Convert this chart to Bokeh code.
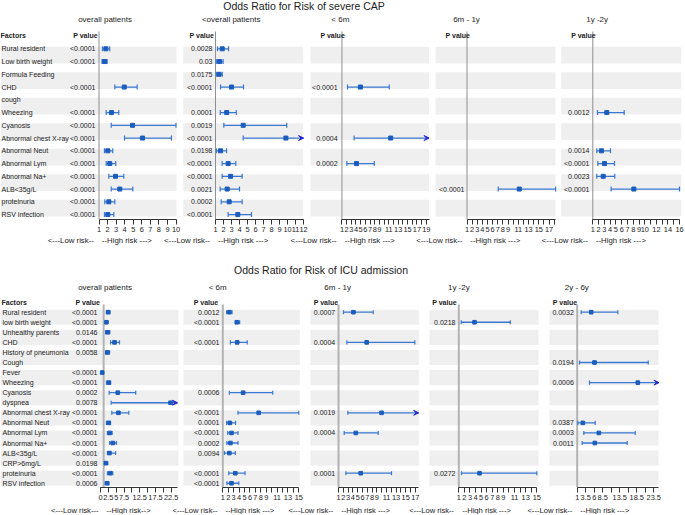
from bokeh.plotting import figure
from bokeh.models import (Range1d, FixedTicker, CustomJSTickFormatter, Arrow,
                          VeeHead, ColumnDataSource)
from bokeh.layouts import column, row
from bokeh.core.properties import value
from bokeh.embed import file_html
from bokeh.resources import INLINE

# ======================= DATA: severe CAP =======================
cap_title = "Odds Ratio for Risk of severe CAP"
cap_groups = ["overall patients", "<overall patients", "< 6m", "6m  - 1y", "1y -2y"]
cap_factors = ["Rural resident", "Low birth weight", "Formula Feeding", "CHD", "cough",
               "Wheezing", "Cyanosis", "Abnormal chest X-ray", "Abnormal Neut",
               "Abnormal Lym", "Abnormal Na+", "ALB<35g/L", "proteinuria", "RSV infection"]

cap_overall_p = ["<0.0001", "<0.0001", "", "<0.0001", "", "<0.0001", "<0.0001", "<0.0001",
                 "<0.0001", "<0.0001", "<0.0001", "<0.0001", "<0.0001", "<0.0001"]
cap_overall_or = [1.8, 1.65, None, 3.95, None, 2.46, 4.92, 6.08, 2.03, 2.26, 2.93, 3.43, 2.15, 2.03]
cap_overall_lo = [1.4, 1.35, None, 2.85, None, 1.84, 2.43, 3.98, 1.64, 1.84, 2.15, 2.43, 1.68, 1.64]
cap_overall_hi = [2.25, 1.95, None, 5.46, None, 3.31, 10.0, 9.47, 2.61, 2.96, 3.9, 4.95, 2.85, 2.73]

cap_all_p = ["0.0028", "0.03", "0.0175", "<0.0001", "", "0.0001", "0.0019", "<0.0001",
             "0.0198", "<0.0001", "<0.0001", "0.0021", "0.0002", "<0.0001"]
cap_all_or = [1.84, 1.5, 1.45, 3.0, None, 2.4, 4.46, 9.8, 1.63, 2.58, 2.88, 2.46, 2.71, 3.79]
cap_all_lo = [1.25, 1.1, 1.1, 1.63, None, 1.6, 2.04, 4.46, 1.12, 1.83, 1.83, 1.58, 1.71, 2.58]
cap_all_hi = [2.63, 1.95, 1.85, 4.5, None, 3.6, 9.9, 14.0, 2.38, 3.54, 4.33, 4.0, 4.33, 5.5]

cap_6m_p = ["", "", "", "<0.0001", "", "", "", "0.0004", "", "0.0002", "", "", "", ""]
cap_6m_or = [None, None, None, 4.94, None, None, None, 11.4, None, 4.1, None, None, None, None]
cap_6m_lo = [None, None, None, 2.2, None, None, None, 3.6, None, 2.06, None, None, None, None]
cap_6m_hi = [None, None, None, 11.1, None, None, None, 25.0, None, 7.9, None, None, None, None]

cap_6m1y_p = ["", "", "", "", "", "", "", "", "", "", "", "<0.0001", "", ""]
cap_6m1y_or = [None] * 11 + [11.2] + [None] * 2
cap_6m1y_lo = [None] * 11 + [7.1] + [None] * 2
cap_6m1y_hi = [None] * 11 + [18.3] + [None] * 2

cap_1y2y_p = ["", "", "", "", "", "0.0012", "", "", "0.0014", "<0.0001", "0.0023", "<0.0001", "", ""]
cap_1y2y_or = [None, None, None, None, None, 3.42, None, None, 2.5, 3.02, 2.8, 8.1, None, None]
cap_1y2y_lo = [None, None, None, None, None, 1.81, None, None, 1.69, 1.87, 1.69, 4.18, None, None]
cap_1y2y_hi = [None, None, None, None, None, 6.43, None, None, 4.06, 4.75, 4.8, 16.0, None, None]

cap_ticks = [[1, 2, 3, 4, 5, 6, 7, 8, 9, 10],
             [1, 2, 3, 4, 5, 6, 7, 8, 9, 10, 11, 12],
             [1, 2, 3, 4, 5, 6, 7, 8, 9, 11, 13, 15, 17, 19],
             [1, 2, 3, 4, 5, 6, 7, 8, 9, 11, 13, 15, 17],
             [1, 2, 3, 4, 5, 6, 7, 8, 9, 10, 12, 14, 16]]
cap_hidden_ticks = [[], [], [10, 12, 14, 16, 18], [10, 12, 14, 16, 18], [11, 13, 15]]
cap_risk_low = ["<---Low risk--"] * 5
cap_risk_high = ["--High risk --->"] * 5

# ======================= DATA: ICU admission =======================
icu_title = "Odds Ratio for Risk of ICU admission"
icu_groups = ["overall patients", "< 6m", "6m  - 1y", "1y -2y", "2y - 6y"]
icu_factors = ["Rural resident", "low birth weight", "Unhealthy parents", "CHD",
               "History of pneumonia", "Cough", "Fever", "Wheezing", "Cyanosis", "dyspnea",
               "Abnormal chest X-ray", "Abnormal Neut", "Abnormal Lym", "Abnormal Na+",
               "ALB<35g/L", "CRP>6mg/L", "proteinuria", "RSV infection"]

icu_overall_p = ["<0.0001", "<0.0001", "0.0146", "<0.0001", "0.0058", "", "<0.0001", "<0.0001",
                 "0.0002", "0.0078", "<0.0001", "<0.0001", "<0.0001", "<0.0001", "<0.0001",
                 "0.0198", "<0.0001", "0.0006"]
icu_overall_or = [2.45, 1.9, 2.3, 4.46, 2.2, None, 0.54, 2.65, 5.5, 22.3, 5.7, 2.6, 2.95, 3.9,
                  2.85, 1.7, 3.1, 2.1]
icu_overall_lo = [1.9, 1.7, 1.6, 3.2, 1.6, None, 0.4, 1.9, 2.76, 3.4, 3.6, 1.9, 2.2, 2.9,
                  2.2, 1.3, 2.2, 1.5]
icu_overall_hi = [2.96, 2.1, 2.96, 6.05, 2.9, None, 0.7, 3.2, 11.2, 30.0, 9.0, 3.2, 3.7, 5.1,
                  4.8, 2.3, 3.9, 2.65]

icu_6m_p = ["0.0012", "<0.0001", "", "<0.0001", "", "", "", "", "0.0006", "", "<0.0001",
            "0.0001", "<0.0001", "0.0002", "0.0094", "", "<0.0001", "<0.0001"]
icu_6m_or = [2.2, 3.6, None, 3.65, None, None, None, None, 4.75, None, 7.6, 2.3, 2.6, 2.4,
             2.2, None, 3.3, 2.6]
icu_6m_lo = [1.7, 3.3, None, 2.4, None, None, None, None, 2.2, None, 3.8, 1.7, 1.9, 1.75,
             1.3, None, 2.1, 1.75]
icu_6m_hi = [2.7, 4.1, None, 5.5, None, None, None, None, 10.2, None, 15.0, 3.35, 3.8, 3.8,
             3.3, None, 5.1, 3.95]

icu_6m1y_p = ["0.0007", "", "", "0.0004", "", "", "", "", "", "", "0.0019", "", "0.0004", "",
              "", "", "0.0001", ""]
icu_6m1y_or = [4.1, None, None, 6.87, None, None, None, None, None, None, 9.97, None, 4.6,
               None, None, None, 5.63, None]
icu_6m1y_lo = [2.03, None, None, 2.74, None, None, None, None, None, None, 2.94, None, 2.18,
               None, None, None, 2.53, None]
icu_6m1y_hi = [8.23, None, None, 16.9, None, None, None, None, None, None, 25.0, None, 9.27,
               None, None, None, 12.04, None]

icu_1y2y_p = ["", "0.0218", "", "", "", "", "", "", "", "", "", "", "", "", "", "", "0.0272", ""]
icu_1y2y_or = [None, 3.82] + [None] * 14 + [4.72, None]
icu_1y2y_lo = [None, 1.43] + [None] * 14 + [1.48, None]
icu_1y2y_hi = [None, 10.23] + [None] * 14 + [15.0, None]

icu_2y6y_p = ["0.0032", "", "", "", "", "0.0194", "", "0.0006", "", "", "", "0.0387", "0.0003",
              "0.0011", "", "", "", ""]
icu_2y6y_or = [5.11, None, None, None, None, 6.08, None, 18.8, None, None, None, 2.65, 7.35,
               6.17, None, None, None, None]
icu_2y6y_lo = [2.18, None, None, None, None, 1.68, None, 4.61, None, None, None, 1.18, 2.94,
               2.47, None, None, None, None]
icu_2y6y_hi = [12.93, None, None, None, None, 21.86, None, 30.0, None, None, None, 6.29, 18.04,
               15.69, None, None, None, None]

icu_ticks = [[0, 2.5, 5, 7.5, 12.5, 17.5, 22.5],
             [1, 2, 3, 4, 5, 6, 7, 8, 9, 11, 13, 15],
             [1, 2, 3, 4, 5, 6, 7, 8, 9, 11, 13, 15, 17],
             [1, 2, 3, 4, 5, 6, 7, 8, 9, 11, 13, 15],
             [1, 3.5, 6, 8.5, 13.5, 18.5, 23.5]]
icu_hidden_ticks = [[10, 15, 20], [10, 12, 14], [10, 12, 14, 16], [10, 12, 14], [11, 16, 21]]
icu_risk_low = ["<---Low risk---", "<---Low risk--", "<---Low risk--", "<---Low risk--", "<---Low risk--"]
icu_risk_high = ["--High risk-->", "--High risk --->", "--High risk --->", "--High risk --->", "--High risk --->"]

# ======================= LAYOUT / STYLE =======================
FONT = "Liberation Sans"
W_REF, H_REF = 685, 515
W_PX, H_PX = 684, 514
SX = W_PX / W_REF
SY = H_PX / H_REF
BAND = "#efefef"
WHISK = "#3a78d2"
SQ = "#1c5cbc"
ARROW = "#2626d6"
TXT = "#1c1c1c"

CAP_LAYOUT = dict(head=(0, 27), body=(27, 236), foot=(236, 258), axis_y=219, row0=48.3,
                  step=12.75, band_half=0.66, title_xy=(304, 5.5), sub_y=19, header_y=35,
                  line_top=31, risk_y=240.5, risk_size="7.8px", cap_half=0.2, sq=4.0,
                  ref_color="#8f8f8f", ref_width=1.0, label_x=1)
CAP_PANELS = [
    dict(extent=(0, 180), band=(0, 176), cal=(98.5, 1, 175.5, 10), bounds=(1, 10),
         p_right=95, head_left=72.7, sub_x=104.7),
    dict(extent=(180, 308), band=(182.7, 302.7), cal=(215, 1, 303, 12), bounds=(1, 12),
         p_right=212, head_left=189, sub_x=231),
    dict(extent=(308, 433), band=(310, 429.5), cal=(341.7, 1, 426.7, 19), bounds=(1, 19.6),
         p_right=337.3, head_left=320, sub_x=340.3),
    dict(extent=(433, 559), band=(436, 556), cal=(467.5, 1, 549.5, 17), bounds=(1, 18.3),
         p_right=465, head_left=446, sub_x=467.8),
    dict(extent=(559, 685), band=(561.7, 681.7), cal=(593.3, 1, 680, 16), bounds=(1, 16),
         p_right=590, head_left=571.7, sub_x=597.5),
]
ICU_LAYOUT = dict(head=(258, 296), body=(296, 504), foot=(504, 515), axis_y=488.3,
                  row0=312.7, step=10.08, band_half=0.75, title_xy=(321, 270), sub_y=287.7,
                  header_y=302.7, line_top=305, risk_y=509.5, risk_size="7.6px",
                  cap_half=0.2, sq=3.6, ref_color="#b3b3b3", ref_width=2.0, label_x=2)
ICU_PANELS = [
    dict(extent=(0, 180), band=(0, 178), cal=(100, 0, 170.7, 22.5), bounds=(0, 24.5),
         p_right=97, head_left=75, sub_x=104.7),
    dict(extent=(180, 305), band=(183, 299.3), cal=(222.3, 1, 298.3, 15), bounds=(1, 15),
         p_right=219, head_left=193.3, sub_x=217.5),
    dict(extent=(305, 425), band=(310, 419.3), cal=(338.3, 1, 415.7, 17), bounds=(1, 17.7),
         p_right=335, head_left=313.3, sub_x=338.8),
    dict(extent=(425, 545), band=(430, 539), cal=(459.3, 1, 537.3, 15), bounds=(1, 15),
         p_right=456, head_left=432.7, sub_x=459),
    dict(extent=(545, 685), band=(550, 659), cal=(577.7, 1, 654.3, 23.5), bounds=(1, 25),
         p_right=574.3, head_left=553.3, sub_x=577.2),
]


def lin(cal):
    p1, v1, p2, v2 = cal
    k = (p2 - p1) / (v2 - v1)
    return lambda px: v1 + (px - p1) / k


def px_of(cal, v):
    p1, v1, p2, v2 = cal
    return p1 + (v - v1) * (p2 - p1) / (v2 - v1)


def span_px(a, b, s):
    return round(b * s) - round(a * s)


def base_fig(w, h, xr, yr, mb=0, axis=None):
    f = figure(width=w, height=h, x_range=xr, y_range=yr, output_backend="svg",
               toolbar_location=None, title=None, min_border_left=0, min_border_right=0,
               min_border_top=0, min_border_bottom=mb, x_axis_location=axis,
               y_axis_location=None)
    f.outline_line_color = None
    f.background_fill_color = "white"
    f.border_fill_color = "white"
    f.grid.visible = False
    return f


def header(L, title, groups, panels):
    h0, h1 = L["head"]
    f = base_fig(W_PX, span_px(h0, h1, SY), Range1d(0, W_REF), Range1d(h1, h0))
    f.text(x=[L["title_xy"][0]], y=[L["title_xy"][1]], text=[title], text_align="center",
           text_baseline="middle", text_font=value(FONT), text_font_size="10.5px",
           text_color=TXT)
    f.text(x=[P["sub_x"] for P in panels], y=[L["sub_y"]] * len(groups), text=groups,
           text_align="center", text_baseline="middle", text_font=value(FONT),
           text_font_size="8px", text_color=TXT)
    return f


def footer(L, panels, lows, highs):
    f0, f1 = L["foot"]
    f = base_fig(W_PX, span_px(f0, f1, SY), Range1d(0, W_REF), Range1d(f1, f0))
    xs = [px_of(P["cal"], 1) for P in panels]
    f.text(x=[x - 5 for x in xs], y=[L["risk_y"]] * len(xs), text=lows, text_align="right",
           text_baseline="middle", text_font=value(FONT), text_font_size=L["risk_size"],
           text_color=TXT)
    f.text(x=[x + 3 for x in xs], y=[L["risk_y"]] * len(xs), text=highs, text_align="left",
           text_baseline="middle", text_font=value(FONT), text_font_size=L["risk_size"],
           text_color=TXT)
    return f


def panel(L, P, first, factors, pvals, ors, los, his, ticks, hidden):
    a, b = P["extent"]
    w = span_px(a, b, SX)
    h0, h1 = L["body"]
    h = span_px(h0, h1, SY)
    fh = span_px(h0, L["axis_y"], SY)
    vx = lin(P["cal"])
    ry = lambda py: (py - L["row0"]) / L["step"]
    f = base_fig(w, h, Range1d(vx(a), vx(b)), Range1d(ry(L["axis_y"]), ry(h0)),
                 mb=h - fh, axis="below")
    n = len(factors)
    pairs = list(range(0, n, 2))
    f.quad(left=vx(P["band"][0]), right=vx(P["band"][1]),
           top=[i + 0.5 - L["band_half"] for i in pairs],
           bottom=[i + 0.5 + L["band_half"] for i in pairs],
           fill_color=BAND, line_color=None)
    # reference line at OR = 1
    f.segment(x0=[1], x1=[1], y0=[ry(L["line_top"])], y1=[ry(L["axis_y"])],
              line_color=L["ref_color"], line_width=L["ref_width"])

    rows = [i for i in range(n) if ors[i] is not None]
    xmax = P["bounds"][1]
    oo = [ors[i] for i in rows]
    lo = [los[i] for i in rows]
    hi = [his[i] for i in rows]
    hi_draw = [min(v, xmax) for v in hi]
    c = L["cap_half"]
    if rows:
        f.segment(x0=lo, x1=hi_draw, y0=rows, y1=rows, line_color=WHISK, line_width=1.3)
        f.segment(x0=lo, x1=lo, y0=[y - c for y in rows], y1=[y + c for y in rows],
                  line_color=WHISK, line_width=1.2)
        cap_x = [hv for hv in hi if hv <= xmax]
        cap_y = [y for hv, y in zip(hi, rows) if hv <= xmax]
        if cap_x:
            f.segment(x0=cap_x, x1=cap_x, y0=[y - c for y in cap_y], y1=[y + c for y in cap_y],
                      line_color=WHISK, line_width=1.2)
        arr = [(l, y) for l, hv, y in zip(lo, hi, rows) if hv > xmax]
        if arr:
            src = ColumnDataSource(dict(x0=[t[0] for t in arr], x1=[xmax] * len(arr),
                                        y=[t[1] for t in arr]))
            f.add_layout(Arrow(end=VeeHead(size=5, line_color=ARROW, fill_color=ARROW,
                                           line_width=1),
                               source=src, x_start="x0", y_start="y", x_end="x1", y_end="y",
                               line_alpha=0))
        f.scatter(x=oo, y=rows, marker="square", size=L["sq"], fill_color=SQ, line_color=SQ)

    prow = [i for i in range(n) if pvals[i]]
    if prow:
        f.text(x=[vx(P["p_right"])] * len(prow), y=prow, text=[pvals[i] for i in prow],
               text_align="right", text_baseline="middle", text_font=value(FONT),
               text_font_size="7px", text_color=TXT)
    f.text(x=[vx(P["head_left"])], y=[ry(L["header_y"])], text=["P value"],
           text_align="left", text_baseline="middle", text_font=value(FONT),
           text_font_size="7px", text_font_style="bold", text_color=TXT)
    if first:
        f.text(x=[vx(L["label_x"])] * n, y=list(range(n)), text=factors, text_align="left",
               text_baseline="middle", text_font=value(FONT), text_font_size="7px",
               text_color=TXT)
        f.text(x=[vx(L["label_x"] - 1)], y=[ry(L["header_y"])], text=["Factors"],
               text_align="left", text_baseline="middle", text_font=value(FONT),
               text_font_size="7px", text_font_style="bold", text_color=TXT)

    ax = f.xaxis[0]
    ax.ticker = FixedTicker(ticks=ticks, minor_ticks=hidden)
    ax.bounds = P["bounds"]
    ax.formatter = CustomJSTickFormatter(code="return tick.toString();")
    ax.major_tick_in = 0
    ax.major_tick_out = 5
    ax.minor_tick_in = 0
    ax.minor_tick_out = 5
    ax.major_label_standoff = 2
    ax.major_label_text_font = FONT
    ax.major_label_text_font_size = "7.4px"
    ax.major_label_text_color = TXT
    ax.axis_line_color = "#333333"
    ax.major_tick_line_color = "#333333"
    ax.minor_tick_line_color = "#333333"
    return f


cap_series = [
    (cap_overall_p, cap_overall_or, cap_overall_lo, cap_overall_hi),
    (cap_all_p, cap_all_or, cap_all_lo, cap_all_hi),
    (cap_6m_p, cap_6m_or, cap_6m_lo, cap_6m_hi),
    (cap_6m1y_p, cap_6m1y_or, cap_6m1y_lo, cap_6m1y_hi),
    (cap_1y2y_p, cap_1y2y_or, cap_1y2y_lo, cap_1y2y_hi),
]
icu_series = [
    (icu_overall_p, icu_overall_or, icu_overall_lo, icu_overall_hi),
    (icu_6m_p, icu_6m_or, icu_6m_lo, icu_6m_hi),
    (icu_6m1y_p, icu_6m1y_or, icu_6m1y_lo, icu_6m1y_hi),
    (icu_1y2y_p, icu_1y2y_or, icu_1y2y_lo, icu_1y2y_hi),
    (icu_2y6y_p, icu_2y6y_or, icu_2y6y_lo, icu_2y6y_hi),
]

cap_figs = [panel(CAP_LAYOUT, CAP_PANELS[k], k == 0, cap_factors, *cap_series[k],
                  cap_ticks[k], cap_hidden_ticks[k]) for k in range(5)]
icu_figs = [panel(ICU_LAYOUT, ICU_PANELS[k], k == 0, icu_factors, *icu_series[k],
                  icu_ticks[k], icu_hidden_ticks[k]) for k in range(5)]

layout = column(
    header(CAP_LAYOUT, cap_title, cap_groups, CAP_PANELS),
    row(*cap_figs, spacing=0),
    footer(CAP_LAYOUT, CAP_PANELS, cap_risk_low, cap_risk_high),
    header(ICU_LAYOUT, icu_title, icu_groups, ICU_PANELS),
    row(*icu_figs, spacing=0),
    footer(ICU_LAYOUT, ICU_PANELS, icu_risk_low, icu_risk_high),
    spacing=0,
)

open("out.html", "w").write(file_html(layout, INLINE))
